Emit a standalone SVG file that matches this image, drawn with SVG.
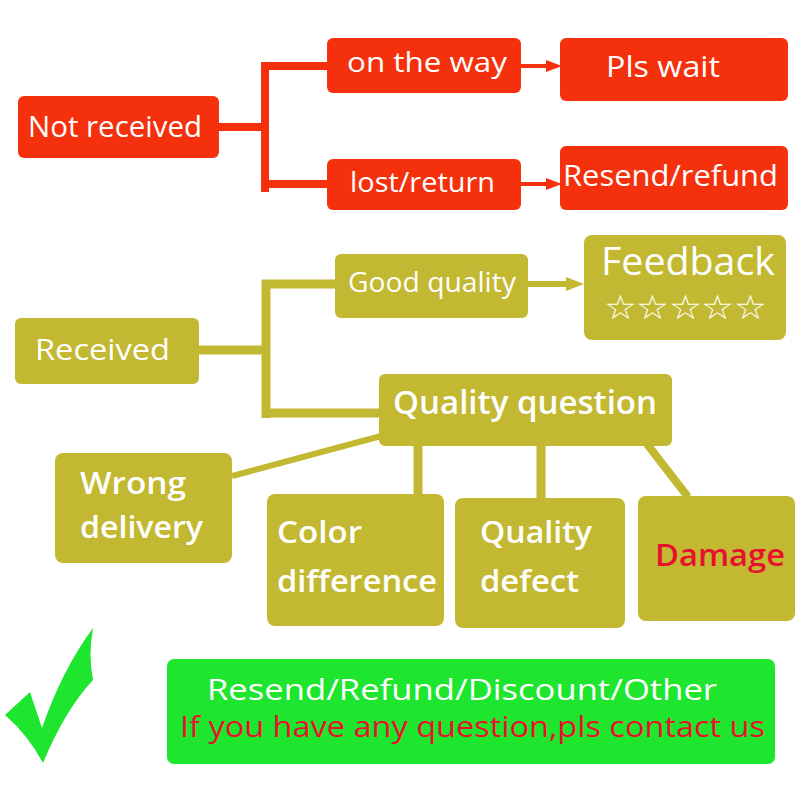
<svg xmlns="http://www.w3.org/2000/svg" width="800" height="800" viewBox="0 0 800 800">
<defs>
<style>
.red{fill:#f5300d}
.ol{fill:#c3b831}
.t{font-family:"Open Sans","Noto Sans","Liberation Sans",sans-serif;fill:#fff}
.b{font-weight:600}
.lr{stroke:#f5300d;stroke-width:8;fill:none}
.lo{stroke:#c3b831;stroke-width:9;fill:none}
</style>
<marker id="ar" markerWidth="4" markerHeight="3" refX="0" refY="1.5" orient="auto" markerUnits="strokeWidth"><path d="M0,0 L4,1.5 L0,3 Z" fill="#f5300d"/></marker>
</defs>
<rect width="800" height="800" fill="#fff"/>
<g id="connectors">
<path class="lr" d="M219,127 H265 M265,62 V192 M261,66 H330 M261,184 H330"/>
<line x1="521" y1="66" x2="546" y2="66" stroke="#f5300d" stroke-width="4" marker-end="url(#ar)"/>
<line x1="521" y1="184" x2="546" y2="184" stroke="#f5300d" stroke-width="4" marker-end="url(#ar)"/>
<path class="lo" d="M199,350 H266 M266,280 V418 M262,284 H338 M262,413 H382"/>
<path d="M528,281 H566 V277 L584,284 L566,291 V287 H528 Z" fill="#c3b831"/>
<path d="M232,476 L381,436" stroke="#c3b831" stroke-width="6"/>
<path class="lo" d="M418,444 V496 M541,444 V500"/>
<path d="M647,444 L688,497" stroke="#c3b831" stroke-width="8"/>
</g>
<g id="not-received"><rect class="red" x="18" y="96" width="201" height="62" rx="6"/><text class="t" x="28" y="137" font-size="30" textLength="174" lengthAdjust="spacingAndGlyphs">Not received</text></g>
<g id="on-the-way"><rect class="red" x="327" y="38" width="194" height="55" rx="6"/><text class="t" x="347" y="72" font-size="28" textLength="160" lengthAdjust="spacingAndGlyphs">on the way</text></g>
<g id="pls-wait"><rect class="red" x="560" y="38" width="228" height="63" rx="6"/><text class="t" x="606" y="77" font-size="30" textLength="114" lengthAdjust="spacingAndGlyphs">Pls wait</text></g>
<g id="lost-return"><rect class="red" x="327" y="159" width="194" height="51" rx="6"/><text class="t" x="350" y="192" font-size="28" textLength="145" lengthAdjust="spacingAndGlyphs">lost/return</text></g>
<g id="resend-refund"><rect class="red" x="560" y="146" width="228" height="64" rx="6"/><text class="t" x="563" y="186" font-size="30" textLength="215" lengthAdjust="spacingAndGlyphs">Resend/refund</text></g>
<g id="received"><rect class="ol" x="15" y="318" width="184" height="66" rx="6"/><text class="t" x="35" y="360" font-size="30" textLength="135" lengthAdjust="spacingAndGlyphs">Received</text></g>
<g id="good-quality"><rect class="ol" x="335" y="254" width="193" height="64" rx="6"/><text class="t" x="348" y="292" font-size="28" textLength="168" lengthAdjust="spacingAndGlyphs">Good quality</text></g>
<g id="feedback"><rect class="ol" x="584" y="235" width="202" height="105" rx="8"/><text class="t" x="601" y="275" font-size="38" textLength="174" lengthAdjust="spacingAndGlyphs">Feedback</text><text class="t" x="604" y="319" font-size="34" textLength="162" lengthAdjust="spacingAndGlyphs" font-family="DejaVu Sans,sans-serif">☆☆☆☆☆</text></g>
<g id="quality-question"><rect class="ol" x="379" y="374" width="293" height="72" rx="6"/><text class="t b" x="393" y="414" font-size="32" textLength="264" lengthAdjust="spacingAndGlyphs">Quality question</text></g>
<g id="wrong-delivery"><rect class="ol" x="55" y="453" width="177" height="110" rx="8"/><text class="t b" x="80" y="494" font-size="30" textLength="106" lengthAdjust="spacingAndGlyphs">Wrong</text><text class="t b" x="80" y="538" font-size="30" textLength="123" lengthAdjust="spacingAndGlyphs">delivery</text></g>
<g id="color-difference"><rect class="ol" x="267" y="494" width="177" height="132" rx="8"/><text class="t b" x="277" y="543" font-size="30" textLength="85" lengthAdjust="spacingAndGlyphs">Color</text><text class="t b" x="277" y="592" font-size="30" textLength="160" lengthAdjust="spacingAndGlyphs">difference</text></g>
<g id="quality-defect"><rect class="ol" x="455" y="498" width="170" height="130" rx="8"/><text class="t b" x="480" y="543" font-size="30" textLength="112" lengthAdjust="spacingAndGlyphs">Quality</text><text class="t b" x="480" y="592" font-size="30" textLength="99" lengthAdjust="spacingAndGlyphs">defect</text></g>
<g id="damage"><rect class="ol" x="638" y="496" width="157" height="125" rx="8"/><text class="t b" x="655" y="566" font-size="30" style="fill:#e8112d" textLength="130" lengthAdjust="spacingAndGlyphs">Damage</text></g>
<g id="checkmark"><path d="M5,715 L30,692 L42,728 Q62,670 93,628 Q88,655 93,680 Q65,710 43,763 Q28,735 5,715 Z" fill="#1ee62e"/></g>
<g id="result"><rect x="167" y="659" width="608" height="105" rx="7" fill="#1ee62e"/><text class="t" x="207" y="700" font-size="29" textLength="510" lengthAdjust="spacingAndGlyphs">Resend/Refund/Discount/Other</text><text class="t" x="180" y="737" font-size="29" style="fill:#e8112d" textLength="585" lengthAdjust="spacingAndGlyphs">If you have any question,pls contact us</text></g>
</svg>
